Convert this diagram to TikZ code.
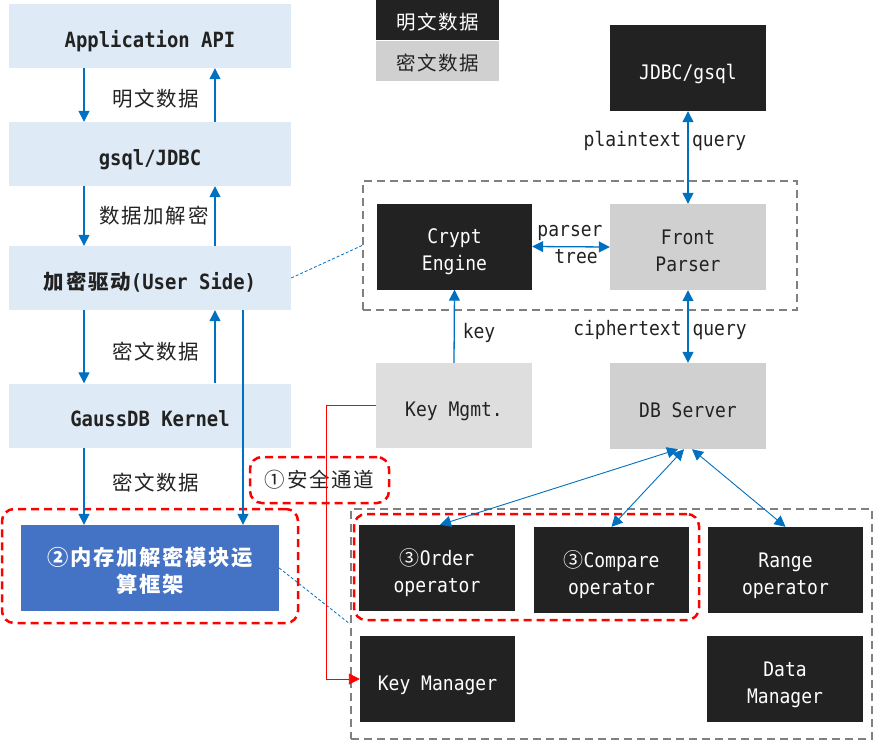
\documentclass[tikz,border=0pt]{standalone}
\usepackage{fontspec}
\setmainfont{DejaVu Sans Mono}[FakeStretch=0.9]
\newfontfamily\cjk{Noto Sans CJK SC}[LetterSpace=8]
\usetikzlibrary{arrows.meta,positioning}
\definecolor{paleblue}{RGB}{222,234,246}
\definecolor{darkfill}{RGB}{34,34,34}
\definecolor{grayfill}{RGB}{208,208,208}
\definecolor{lightgray}{RGB}{222,222,222}
\definecolor{memblue}{RGB}{68,114,196}
\definecolor{arrowblue}{RGB}{0,112,192}
\definecolor{groupgray}{RGB}{128,128,128}
\newcommand{\zh}[1]{{\cjk #1}}
\tikzset
{
    basebox/.style  = {inner sep=0pt, align=center, minimum width=155pt, minimum height=86pt, text height=22pt, text depth=0pt, font=\fontsize{20}{27}\selectfont},
    twolines/.style = {text height=48pt, text depth=0pt},
    layerbox/.style = {basebox, fill=paleblue, text=darkfill, minimum width=282pt, minimum height=64pt, font=\fontsize{21}{27}\selectfont\bfseries},
    darkbox/.style  = {basebox, fill=darkfill, text=white},
    graybox/.style  = {basebox, fill=grayfill, text=darkfill},
    legendbox/.style= {basebox, minimum width=123pt, minimum height=40pt, text height=19pt, font=\cjk\fontsize{19.5}{24}\selectfont},
    group/.style    = {draw=groupgray, line width=2pt, dash pattern=on 8pt off 5pt, inner sep=0pt},
    redgroup/.style = {draw=red, line width=2.5pt, dash pattern=on 8pt off 5pt, rounded corners=12pt, inner sep=0pt},
    cnlabel/.style  = {inner sep=0pt, text=darkfill, font=\cjk\fontsize{20.5}{24}\selectfont},
    enlabel/.style  = {inner sep=0pt, text=darkfill, font=\fontsize{20}{24}\selectfont},
    flow/.style     = {draw=arrowblue, line width=1.3pt},
    thinflow/.style = {draw=arrowblue, line width=0.9pt},
    link/.style     = {draw=arrowblue, line width=0.8pt, dash pattern=on 3pt off 2pt}
}

\begin{document}
\begin{tikzpicture}[x=1pt, y=-1pt, >={Triangle[length=11pt,width=11pt]}]
    \useasboundingbox (0,0) rectangle (873,740);

    \node [layerbox] (app) at (150,36) {Application API};
    \node [layerbox] (gsql) at (150,154) {gsql/JDBC};
    \node [layerbox] (drv) at (150,278) {{\cjk\fontsize{20.5}{27}\selectfont 加密驱动}(User Side)};
    \node [layerbox] (kernel) at (150,415.5) {GaussDB Kernel};
    \node [basebox, twolines, fill=memblue, text=white, minimum width=258pt, font=\cjk\bfseries\fontsize{21.3}{27}\selectfont] (mem) at (150,568) {②内存加解密模块运\\算框架};

    \node [legendbox, fill=darkfill, text=white] (plain) at (437.5,20) {明文数据};
    \node [legendbox, fill=grayfill, text=darkfill] (cipher) at (437.5,61) {密文数据};

    \node [darkbox, minimum width=156pt] (jdbc) at (688,68) {JDBC/gsql};
    \node [group, minimum width=434pt, minimum height=129pt] (topgrp) at (580,245.5) {};
    \node [darkbox, twolines] (crypt) at (454.5,246.5) {Crypt\\Engine};
    \node [graybox, twolines, minimum width=156pt] (front) at (688,247) {Front\\Parser};
    \node [basebox, fill=lightgray, text=darkfill, minimum width=156pt, minimum height=85pt] (kmgmt) at (454,405.5) {Key Mgmt.};
    \node [graybox, minimum width=156pt] (db) at (688,406) {DB Server};

    \node [group, minimum width=521pt, minimum height=230pt] (botgrp) at (611.5,624) {};
    \node [darkbox, twolines, minimum width=156pt] (order) at (437,568) {\zh{③}Order\\operator};
    \node [darkbox, twolines] (compare) at (611.5,570) {\zh{③}Compare\\operator};
    \node [darkbox, twolines] (range) at (785.5,570) {Range\\operator};
    \node [darkbox] (keymgr) at (437.5,679) {Key Manager};
    \node [darkbox, twolines, minimum width=156pt] (datamgr) at (785,679) {Data\\Manager};

    \node [redgroup, minimum width=296pt, minimum height=114pt] (memgrp) at (150,566) {};
    \node [redgroup, minimum width=345pt, minimum height=106pt] (opgrp) at (526.5,567) {};
    \node [redgroup, minimum width=139pt, minimum height=46pt, font=\cjk\fontsize{20.5}{24}\selectfont, text=darkfill] (channel) at (319.5,480) {①安全通道};

    \node [cnlabel] (lplain) at (156,99) {明文数据};
    \node [cnlabel] (lcrypt) at (154,216) {数据加解密};
    \node [cnlabel] (lcipher) at (156,352) {密文数据};
    \node [cnlabel] (lcipher2) at (156,483) {密文数据};
    \node [enlabel] (lquery) at (665,141) {plaintext query};
    \node [enlabel] (lparser) at (570,233) {parser};
    \node [enlabel] (ltree) at (576,257) {tree};
    \node [enlabel] (lkey) at (479,333) {key};
    \node [enlabel] (lcquery) at (660,330) {ciphertext query};

    \coordinate (dn) at (84,0);
    \coordinate (up) at (215,0);
    \coordinate (ln) at (243,0);

    \draw [flow, ->] (app.south -| dn) -- (gsql.north -| dn);
    \draw [flow, ->] (gsql.north -| up) -- (app.south -| up);
    \draw [flow, ->] (gsql.south -| dn) -- (drv.north -| dn);
    \draw [flow, ->] (drv.north -| up) -- (gsql.south -| up);
    \draw [flow, ->] (drv.south -| dn) -- (kernel.north -| dn);
    \draw [flow, ->] (kernel.north -| up) -- (drv.south -| up);
    \draw [flow, ->] (kernel.south -| dn) -- (mem.north -| dn);
    \draw [flow, ->] (drv.south -| ln) -- (mem.north -| ln);

    \draw [flow, <->] (jdbc.south) -- (front.north);
    \draw [flow, <->] (crypt.east) -- (front.west);
    \draw [flow, ->] (kmgmt.north) -- (crypt.south);
    \draw [flow, <->] (front.south) -- (db.north);

    \draw [thinflow, <->] ([xshift=-10pt]db.south) -- ([xshift=3pt]order.north);
    \draw [thinflow, <->] ([xshift=-4pt]db.south) -- (compare.north);
    \draw [thinflow, <->] ([xshift=4pt]db.south) -- (range.north);

    \draw [link] (drv.east) -- (topgrp.west);
    \draw [link] (mem.east) -- (botgrp.west);

    \draw [red, line width=0.9pt, ->] (kmgmt.west) -- ++(-49,0) |- (keymgr.west);
\end{tikzpicture}
\end{document}
